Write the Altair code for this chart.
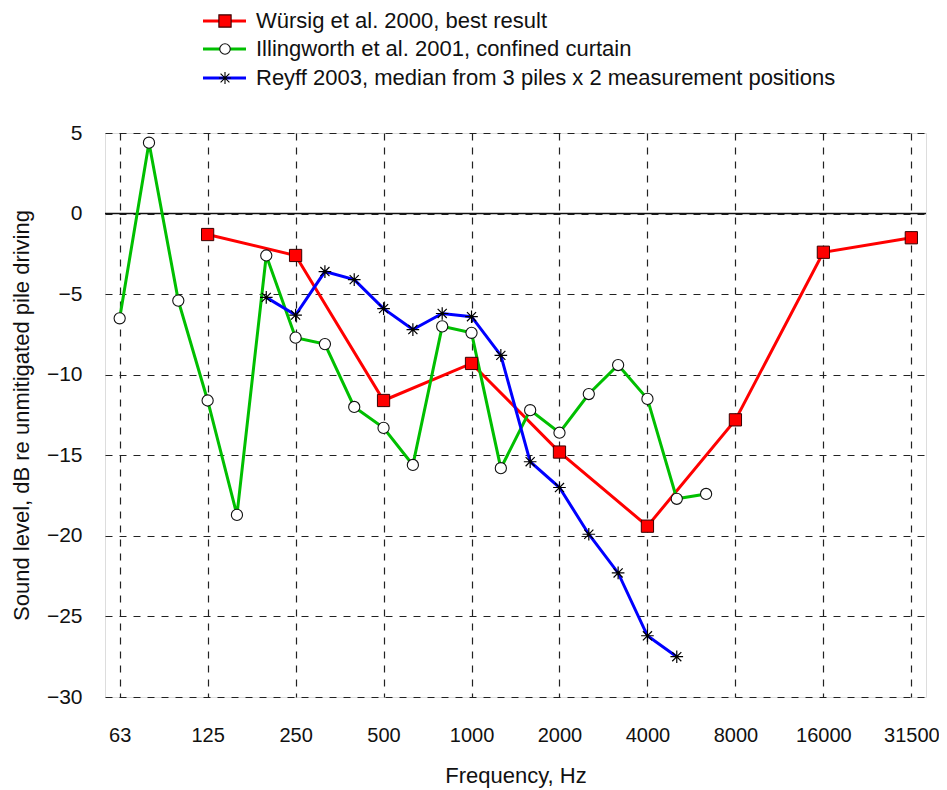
import altair as alt
import pandas as pd

# third-octave band centre frequencies (equally spaced on the x axis)
bands = [63, 80, 100, 125, 160, 200, 250, 315, 400, 500, 630, 800, 1000, 1250,
         1600, 2000, 2500, 3150, 4000, 5000, 6300, 8000, 10000, 12500, 16000,
         20000, 25000, 31500]
octave_labels = ["63", "125", "250", "500", "1000", "2000", "4000", "8000", "16000", "31500"]

wursig_freq = [125, 250, 500, 1000, 2000, 4000, 8000, 16000, 31500]
wursig_db = [-1.3, -2.6, -11.6, -9.3, -14.8, -19.4, -12.8, -2.4, -1.5]

illing_freq = [63, 80, 100, 125, 160, 200, 250, 315, 400, 500, 630, 800, 1000,
               1250, 1600, 2000, 2500, 3150, 4000, 5000, 6300]
illing_db = [-6.5, 4.4, -5.4, -11.6, -18.7, -2.6, -7.7, -8.1, -12.0, -13.3, -15.6,
             -7.0, -7.4, -15.8, -12.2, -13.6, -11.2, -9.4, -11.5, -17.7, -17.4]

reyff_freq = [200, 250, 315, 400, 500, 630, 800, 1000, 1250, 1600, 2000, 2500,
              3150, 4000, 5000]
reyff_db = [-5.2, -6.3, -3.6, -4.1, -5.9, -7.2, -6.2, -6.4, -8.8, -15.4, -17.0,
            -19.9, -22.3, -26.2, -27.5]

series_names = [" Würsig et al. 2000, best result",
                "Illingworth et al. 2001, confined curtain",
                "Reyff 2003, median from 3 piles x 2 measurement positions"]
series_colors = ["#ff0000", "#00bf00", "#0000ff"]

FONT = "Liberation Sans"
W, H = 821, 564


def make_df(freqs, vals):
    return pd.DataFrame({"idx": [bands.index(f) for f in freqs], "db": vals})


dfs = [make_df(wursig_freq, wursig_db), make_df(illing_freq, illing_db),
       make_df(reyff_freq, reyff_db)]

label_expr = "[" + ",".join("'%s'" % l for l in octave_labels) + "][round(datum.value/3)]"

x_enc = alt.X("idx:Q", scale=alt.Scale(domain=[-0.5, 27.5], nice=False, zero=False),
              axis=alt.Axis(values=list(range(0, 28, 3)), labelExpr=label_expr,
                            title="Frequency, Hz", grid=True, gridDash=[7, 7],
                            gridColor="#222", gridWidth=1.2, ticks=False, domain=False,
                            labelFont=FONT, labelFontSize=20, labelColor="#111",
                            labelPadding=28, titleFont=FONT, titleFontSize=22,
                            titleFontWeight="normal", titleColor="#111", titlePadding=20))
y_enc = alt.Y("db:Q", scale=alt.Scale(domain=[-30, 5], nice=False),
              axis=alt.Axis(values=list(range(-30, 6, 5)), title="Sound level, dB re unmitigated pile driving",
                            grid=True, gridDash=[7, 7], gridColor="#222", gridWidth=1.2,
                            ticks=False, domain=False, labelFont=FONT, labelFontSize=21,
                            labelColor="#111", labelPadding=23, titleFont=FONT,
                            titleFontSize=22, titleFontWeight="normal", titleColor="#111",
                            titlePadding=13))

base_layers = []
# zero line
zero = alt.Chart(pd.DataFrame({"db": [0]})).mark_rule(color="#111", strokeWidth=1.6).encode(y=y_enc)
base_layers.append(zero)

star_path = "M-1,0L1,0M0,-1L0,1M-0.72,-0.72L0.72,0.72M-0.72,0.72L0.72,-0.72"

line_layers = []
point_layers = []
for i, df in enumerate(dfs):
    line_layers.append(alt.Chart(df).mark_line(color=series_colors[i], strokeWidth=3).encode(x=x_enc, y=y_enc))
point_layers.append(alt.Chart(dfs[0]).mark_point(shape="square", filled=True, fill="#ff0000",
                                                 stroke="#3a0000", strokeWidth=1, size=150, opacity=1).encode(x=x_enc, y=y_enc))
point_layers.append(alt.Chart(dfs[1]).mark_point(shape="circle", filled=True, fill="white",
                                                 stroke="#111", strokeWidth=1.1, size=125, opacity=1).encode(x=x_enc, y=y_enc))
point_layers.append(alt.Chart(dfs[2]).mark_point(shape=star_path, filled=False,
                                                 stroke="#000", strokeWidth=1.2, size=160, opacity=1).encode(x=x_enc, y=y_enc))

# legend (drawn above the plot area)
leg_layers = []
leg_rows = [-112, -84, -55]
shapes = [("square", "#ff0000", "#3a0000", 150, True),
          ("circle", "white", "#111", 110, True),
          (star_path, None, "#000", 150, False)]
leg_df = pd.DataFrame({"name": series_names})
for i, name in enumerate(series_names):
    row = leg_df.iloc[[i]]
    yv = leg_rows[i]
    leg_layers.append(alt.Chart(row).mark_rule(color=series_colors[i], strokeWidth=3).encode(
        x=alt.value(98), x2=alt.value(141), y=alt.value(yv)))
    shp, fill, stroke, size, filled = shapes[i]
    pk = dict(shape=shp, filled=filled, stroke=stroke, size=size, opacity=1, strokeWidth=1.1)
    if fill:
        pk["fill"] = fill
    leg_layers.append(alt.Chart(row).mark_point(**pk).encode(x=alt.value(120), y=alt.value(yv)))
    leg_layers.append(alt.Chart(row).mark_text(align="left", baseline="middle", font=FONT,
                                              fontSize=22, color="#111").encode(
        x=alt.value(151), y=alt.value(yv), text="name:N"))

chart = alt.layer(*base_layers, *line_layers, *point_layers, *leg_layers).properties(
    width=W, height=H,
    autosize=alt.AutoSizeParams(type="none"),
    padding={"left": 97, "top": 125, "right": 13, "bottom": 92},
).configure_view(stroke="#111", strokeWidth=1.6).configure(background="white")

chart.save("out.html", embed_options={"renderer": "svg", "actions": False})
